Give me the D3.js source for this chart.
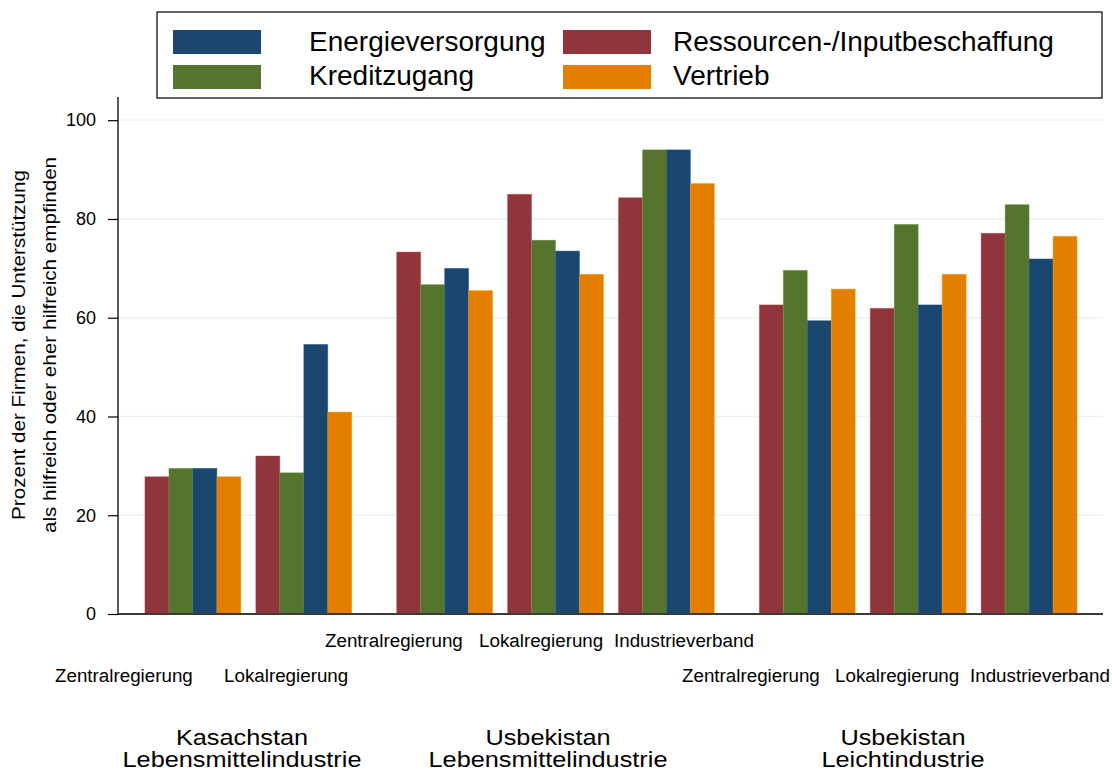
<!DOCTYPE html>
<html>
<head>
<meta charset="utf-8">
<script src="https://cdn.jsdelivr.net/npm/d3@7"></script>
<style>
  html, body { margin: 0; padding: 0; background: #fff; }
  svg { display: block; font-family: "Liberation Sans", Arial, sans-serif; }
</style>
</head>
<body>
<svg id="chart" width="1112" height="771"></svg>
<script>
// ---------------- DATA ----------------
const superGroups = [
  ["Kasachstan", "Lebensmittelindustrie"],
  ["Usbekistan", "Lebensmittelindustrie"],
  ["Usbekistan", "Leichtindustrie"]
];
// subgroup categories (slot order) and which super group they belong to
const categories = [
  "Zentralregierung", "Lokalregierung",
  "Zentralregierung", "Lokalregierung", "Industrieverband",
  "Zentralregierung", "Lokalregierung", "Industrieverband"
];
const categorySuper = [0, 0, 1, 1, 1, 2, 2, 2];

const seriesNames = ["Ressourcen-/Inputbeschaffung", "Kreditzugang", "Energieversorgung", "Vertrieb"];
const ressourcen = [27.8, 32.0, 73.3, 85.0, 84.3, 62.6, 61.9, 77.1];
const kredit     = [29.5, 28.6, 66.7, 75.7, 94.0, 69.6, 78.9, 82.9];
const energie    = [29.5, 54.6, 70.0, 73.5, 94.0, 59.4, 62.6, 71.9];
const vertrieb   = [27.8, 40.9, 65.5, 68.8, 87.2, 65.8, 68.8, 76.5];
const seriesValues = [ressourcen, kredit, energie, vertrieb];

const yTicks = [0, 20, 40, 60, 80, 100];
const legendOrder = ["Energieversorgung", "Kreditzugang", "Ressourcen-/Inputbeschaffung", "Vertrieb"];
const yTitle = ["Prozent der Firmen, die Unterstützung", "als hilfreich oder eher hilfreich empfinden"];

// ---------------- STYLE / LAYOUT ----------------
const colors = {
  "Ressourcen-/Inputbeschaffung": "#90353B",
  "Kreditzugang": "#55752F",
  "Energieversorgung": "#1A476F",
  "Vertrieb": "#E37E00"
};
const L = { x0: 118, x1: 1103, yTop: 97, yBase: 614 };
const superGap = 0.27;      // extra gap between super groups, in slot units
const barSpan = 0.865;      // fraction of slot covered by bars

// label layouts (text start x, baseline y) for subgroup labels
const subLabelLayout = [
  { x: 55, y: 682 }, { x: 224, y: 682 },
  { x: 325, y: 647 }, { x: 479, y: 647 }, { x: 614, y: 647 },
  { x: 682, y: 682 }, { x: 835, y: 682 }, { x: 970, y: 682 }
];
const superLabelCenters = [242, 548, 903];

const svg = d3.select("#chart");

// ---------------- SCALES ----------------
const slotPos = categories.map((c, i) => i + categorySuper[i] * superGap);
const x = d3.scaleLinear()
  .domain([-0.243, slotPos[slotPos.length - 1] + barSpan + 0.234])
  .range([L.x0, L.x1]);
const y = d3.scaleLinear().domain([0, 104.7]).range([L.yBase, L.yTop]);
const inner = d3.scaleBand().domain(seriesNames)
  .range([0, x(barSpan) - x(0)]).padding(0);

// ---------------- GRID ----------------
svg.append("g").selectAll("line")
  .data(yTicks.filter(t => t > 0))
  .join("line")
  .attr("x1", L.x0).attr("x2", L.x1)
  .attr("y1", d => y(d)).attr("y2", d => y(d))
  .attr("stroke", "#EAF2F3").attr("stroke-width", 1.6);

// ---------------- BARS ----------------
const barData = [];
seriesNames.forEach((s, si) => {
  seriesValues[si].forEach((v, ci) => barData.push({ s, ci, v }));
});
svg.append("g").selectAll("rect")
  .data(barData)
  .join("rect")
  .attr("x", d => x(slotPos[d.ci]) + inner(d.s))
  .attr("width", inner.bandwidth())
  .attr("y", d => y(d.v))
  .attr("height", d => y(0) - y(d.v))
  .attr("fill", d => colors[d.s])
  .attr("stroke", d => d3.color(colors[d.s]).brighter(0.8))
  .attr("stroke-opacity", 0.5)
  .attr("stroke-width", 0.8);

// ---------------- AXES ----------------
const yAxis = d3.axisLeft(y).tickValues(yTicks).tickSize(10).tickPadding(12)
  .tickFormat(d3.format("d"));
const gy = svg.append("g").attr("transform", `translate(${L.x0},0)`).call(yAxis);
gy.select(".domain").remove();
gy.selectAll(".tick line").attr("stroke", "#000").attr("stroke-width", 1.2);
gy.selectAll(".tick text").attr("font-size", 18).attr("fill", "#000")
  .attr("font-family", "Liberation Sans, Arial, sans-serif");
svg.append("line")
  .attr("x1", L.x0).attr("x2", L.x0)
  .attr("y1", y.range()[1]).attr("y2", L.yBase)
  .attr("stroke", "#000").attr("stroke-width", 1.3);
svg.append("line")
  .attr("x1", L.x0).attr("x2", L.x1)
  .attr("y1", y(0)).attr("y2", y(0))
  .attr("stroke", "#3a3a3a").attr("stroke-width", 1.8);

// ---------------- Y TITLE ----------------
yTitle.forEach((t, i) => {
  svg.append("text")
    .attr("transform", `translate(${25 + i * 31},345) rotate(-90) scale(1.18,1)`)
    .attr("text-anchor", "middle")
    .attr("font-size", 17.5)
    .text(t);
});

// ---------------- CATEGORY LABELS ----------------
svg.append("g").selectAll("text")
  .data(categories)
  .join("text")
  .attr("x", (d, i) => subLabelLayout[i].x)
  .attr("y", (d, i) => subLabelLayout[i].y)
  .attr("font-size", 18.8)
  .text(d => d);

superGroups.forEach((d, i) => {
  d.forEach((line, j) => {
    svg.append("text")
      .attr("transform", `translate(${superLabelCenters[i]},${745 + j * 22}) scale(1.15,1)`)
      .attr("text-anchor", "middle")
      .attr("font-size", 22)
      .text(line);
  });
});

// ---------------- LEGEND ----------------
const lg = svg.append("g");
lg.append("rect").attr("x", 157).attr("y", 12).attr("width", 945).attr("height", 86)
  .attr("fill", "#fff").attr("stroke", "#000").attr("stroke-width", 1.2);
const legendPos = [
  { sx: 173, sy: 30, tx: 309, ty: 51 },
  { sx: 173, sy: 65, tx: 309, ty: 85 },
  { sx: 563, sy: 30, tx: 673, ty: 51 },
  { sx: 563, sy: 65, tx: 673, ty: 85 }
];
legendOrder.forEach((name, i) => {
  const p = legendPos[i];
  lg.append("rect").attr("x", p.sx).attr("y", p.sy).attr("width", 88).attr("height", 24)
    .attr("fill", colors[name]);
  lg.append("text").attr("x", p.tx).attr("y", p.ty).attr("font-size", 28).text(name);
});
</script>
</body>
</html>
